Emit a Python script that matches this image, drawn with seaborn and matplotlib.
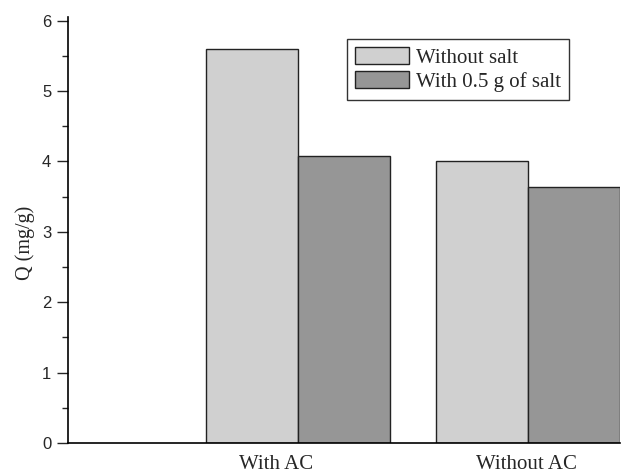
import matplotlib
matplotlib.use("Agg")
import matplotlib.pyplot as plt
from matplotlib.ticker import MultipleLocator
from matplotlib.transforms import ScaledTranslation
import seaborn as sns
import pandas as pd

# Adsorption capacity by sorbent and salt condition
categories = ["With AC", "Without AC"]
without_salt = [5.60, 4.00]
with_salt = [4.08, 3.63]
series_names = ["Without salt", "With 0.5 g of salt"]

df = pd.DataFrame({
    "sorbent": categories * 2,
    "Q": without_salt + with_salt,
    "condition": [series_names[0]] * 2 + [series_names[1]] * 2,
})

sns.set_style("white")
plt.rcParams["font.family"] = ["Liberation Serif", "DejaVu Serif"]

fig = plt.figure(figsize=(6.33, 4.73), dpi=100)
ax = fig.add_axes([68 / 633, 30 / 473, 552 / 633, 426 / 473])

sns.barplot(
    data=df, x="sorbent", y="Q", hue="condition",
    order=[""] + categories, hue_order=series_names,
    palette=["#d0d0d0", "#969696"], width=0.8, saturation=1,
    edgecolor="#222222", linewidth=1.0, ax=ax, legend=True,
)

ax.set_xlim(0, 2.4)
ax.set_ylim(0, 6.05)
ax.set_xlabel("")
ax.set_ylabel("Q (mg/g)", fontsize=14.5)
ax.yaxis.set_label_coords(-0.06, 0.47)

ax.set_xticks([0, 1, 2])
ax.set_xticklabels(["", "With AC", "Without AC"], fontsize=15)
ax.xaxis.set_minor_locator(MultipleLocator(0.25))
ax.tick_params(axis="x", which="major", direction="in", length=4, width=0.8, pad=8.5)
ax.tick_params(axis="x", which="minor", direction="in", length=3, width=0.8)
xlabels = ax.get_xticklabels()
xlabels[1].set_transform(xlabels[1].get_transform()
                         + ScaledTranslation(-0.22, 0, fig.dpi_scale_trans))
xlabels[2].set_transform(xlabels[2].get_transform()
                         + ScaledTranslation(-0.02, 0, fig.dpi_scale_trans))

ax.set_yticks(range(0, 7))
ax.yaxis.set_minor_locator(MultipleLocator(0.5))
ax.tick_params(axis="y", which="major", direction="out", length=8, width=1.0,
               left=True, pad=4)
ax.tick_params(axis="y", which="minor", direction="out", length=4, width=1.0, left=True)
for lbl in ax.get_yticklabels():
    lbl.set_family(["Liberation Sans", "DejaVu Sans"])
    lbl.set_fontsize(12)

for side in ("top", "right"):
    ax.spines[side].set_visible(False)
for side in ("left", "bottom"):
    ax.spines[side].set_color("black")
    ax.spines[side].set_linewidth(1.2)

leg = ax.legend(
    loc="upper left", bbox_to_anchor=(0.505, 0.948), borderaxespad=0,
    fontsize=15, frameon=True, fancybox=False, framealpha=1,
    handlelength=2.6, handleheight=0.85, handletextpad=0.3,
    labelspacing=0.15, borderpad=0.4,
)
leg.get_frame().set_edgecolor("#333333")
leg.get_frame().set_linewidth(1.0)

fig.savefig("out.png", dpi=100)
